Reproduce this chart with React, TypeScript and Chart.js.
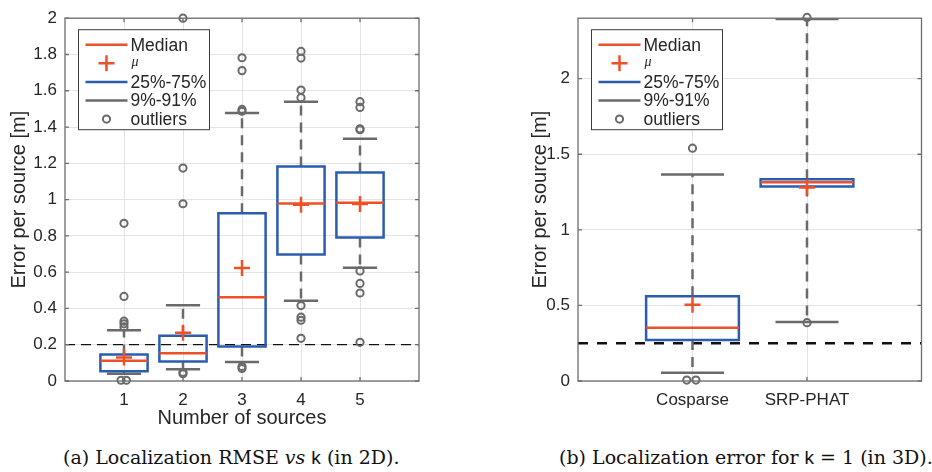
import React, { useEffect, useRef } from 'react';
import { Chart, registerables } from 'chart.js';

Chart.register(...registerables);

// ---------- (a) Localization RMSE vs k (2D) ----------
const positions2D = [1, 2, 3, 4, 5];
const tickLabels2D = ['1', '2', '3', '4', '5'];
const yTicks2D = [0, 0.2, 0.4, 0.6, 0.8, 1, 1.2, 1.4, 1.6, 1.8, 2];
const q1_2D = [0.054, 0.108, 0.19, 0.697, 0.791];
const q3_2D = [0.146, 0.249, 0.925, 1.183, 1.149];
const median2D = [0.112, 0.153, 0.461, 0.979, 0.982];
const mean2D = [0.13, 0.266, 0.623, 0.972, 0.976];
const whiskerLow2D = [0.04, 0.065, 0.105, 0.443, 0.625];
const whiskerHigh2D = [0.28, 0.417, 1.478, 1.54, 1.336];
const outlierX2D = [1, 1, 1, 1, 1, 0.95, 1.04, 2, 2, 2, 2, 2, 3, 3, 3, 3, 3, 3, 4, 4, 4, 4, 4, 4, 4, 4, 5, 5, 5, 5, 5, 5, 5, 5];
const outlierY2D = [0.869, 0.466, 0.33, 0.315, 0.298, 0.004, 0.004, 2.0, 1.174, 0.977, 0.048, 0.04, 1.782, 1.711, 1.497, 1.487, 0.08, 0.069, 1.817, 1.78, 1.604, 1.562, 0.416, 0.352, 0.335, 0.235, 1.54, 1.508, 1.39, 1.385, 0.607, 0.538, 0.485, 0.213];
const threshold2D = 0.2;

// ---------- (b) Localization error for k = 1 (3D) ----------
const positions3D = [1, 2];
const tickLabels3D = ['Cosparse', 'SRP-PHAT'];
const yTicks3D = [0, 0.5, 1, 1.5, 2];
const q1_3D = [0.271, 1.286];
const q3_3D = [0.56, 1.334];
const median3D = [0.353, 1.314];
const mean3D = [0.505, 1.28];
const whiskerLow3D = [0.054, 0.39];
const whiskerHigh3D = [1.366, 2.395];
const outlierX3D = [1, 0.95, 1.03, 2, 2];
const outlierY3D = [1.54, 0.006, 0.006, 2.405, 0.386];
const threshold3D = 0.25;

const legendLabels = ['Median', 'μ', '25%-75%', '9%-91%', 'outliers'];

const RED = '#EE5028';
const BLUE = '#2B5DAE';
const GRAY = '#6A6A6A';
const TEXT = '#262626';
const GRID = '#E4E4E4';
const FRAME = '#6E6E6E';
const SANS = '"Liberation Sans", Arial, sans-serif';

type BoxCfg = {
  pos: number[]; q1: number[]; q3: number[]; med: number[]; mean: number[];
  lo: number[]; hi: number[]; outX: number[]; outY: number[]; thr: number;
  xMin: number; xMax: number; boxHalf: number; capHalf: number;
  thrWidth: number; thrDash: number[];
};

function buildDatasets(c: BoxCfg): any[] {
  const gap = (p: number) => ({ x: p, y: null });
  const whiskers: any[] = [];
  const caps: any[] = [];
  const boxes: any[] = [];
  const medians: any[] = [];
  c.pos.forEach((p, i) => {
    whiskers.push({ x: p, y: c.q3[i] }, { x: p, y: c.hi[i] }, gap(p), { x: p, y: c.q1[i] }, { x: p, y: c.lo[i] }, gap(p));
    caps.push({ x: p - c.capHalf, y: c.hi[i] }, { x: p + c.capHalf, y: c.hi[i] }, gap(p),
      { x: p - c.capHalf, y: c.lo[i] }, { x: p + c.capHalf, y: c.lo[i] }, gap(p));
    boxes.push({ x: p - c.boxHalf, y: c.q1[i] }, { x: p + c.boxHalf, y: c.q1[i] }, { x: p + c.boxHalf, y: c.q3[i] },
      { x: p - c.boxHalf, y: c.q3[i] }, { x: p - c.boxHalf, y: c.q1[i] }, gap(p));
    medians.push({ x: p - c.boxHalf, y: c.med[i] }, { x: p + c.boxHalf, y: c.med[i] }, gap(p));
  });
  const means = c.pos.map((p, i) => ({ x: p, y: c.mean[i] }));
  const outliers = c.outX.map((x, i) => ({ x, y: c.outY[i] }));
  const thrLine = [{ x: c.xMin, y: c.thr }, { x: c.xMax, y: c.thr }];
  const common = { pointRadius: 0, spanGaps: false, fill: false, tension: 0 };
  return [
    { type: 'line', label: 'outliers', data: outliers, showLine: false, pointStyle: 'circle', pointRadius: 3.6,
      pointBorderWidth: 2, borderColor: GRAY, backgroundColor: 'rgba(0,0,0,0)', order: 0, clip: false },
    { type: 'line', label: 'mean', data: means, showLine: false, pointStyle: 'cross', pointRadius: 8,
      pointBorderWidth: 2.5, borderColor: RED, backgroundColor: RED, order: 1 },
    { type: 'line', label: 'median', data: medians, borderColor: RED, borderWidth: 2.5, order: 2, ...common },
    { type: 'line', label: 'box', data: boxes, borderColor: BLUE, borderWidth: 2.5, borderJoinStyle: 'miter',
      borderCapStyle: 'square', order: 3, ...common },
    { type: 'line', label: 'caps', data: caps, borderColor: GRAY, borderWidth: 2.5, order: 4, ...common },
    { type: 'line', label: 'whiskers', data: whiskers, borderColor: GRAY, borderWidth: 2.5, borderDash: [10, 7],
      order: 5, ...common },
    { type: 'line', label: 'threshold', data: thrLine, borderColor: '#111111', borderWidth: c.thrWidth,
      borderDash: c.thrDash, order: 6, ...common },
  ];
}

const framePlugin = {
  id: 'frameLegend',
  afterDatasetsDraw(chart: any) {
    const ctx = chart.ctx as CanvasRenderingContext2D;
    const a = chart.chartArea;
    const xs = chart.scales.x;
    const ys = chart.scales.y;
    ctx.save();
    // box frame
    ctx.strokeStyle = FRAME;
    ctx.lineWidth = 1.3;
    ctx.setLineDash([]);
    ctx.strokeRect(a.left, a.top, a.right - a.left, a.bottom - a.top);
    // inward ticks
    const tl = 4;
    ctx.beginPath();
    ys.ticks.forEach((t: any) => {
      const y = ys.getPixelForValue(t.value);
      ctx.moveTo(a.left, y); ctx.lineTo(a.left + tl, y);
      ctx.moveTo(a.right, y); ctx.lineTo(a.right - tl, y);
    });
    xs.ticks.forEach((t: any) => {
      const x = xs.getPixelForValue(t.value);
      ctx.moveTo(x, a.bottom); ctx.lineTo(x, a.bottom - tl);
      ctx.moveTo(x, a.top); ctx.lineTo(x, a.top + tl);
    });
    ctx.stroke();

    // legend
    const x0 = a.left + 13.5;
    const y0 = a.top + 11.5;
    const w = 131;
    const h = 100;
    ctx.fillStyle = '#ffffff';
    ctx.fillRect(x0, y0, w, h);
    ctx.strokeStyle = '#3C3C3C';
    ctx.lineWidth = 1;
    ctx.strokeRect(x0, y0, w, h);
    const symL = x0 + 7;
    const symR = x0 + 49;
    const symC = (symL + symR) / 2;
    const textX = x0 + 52;
    legendLabels.forEach((label, i) => {
      const cy = y0 + 15 + i * 18.6;
      ctx.setLineDash([]);
      ctx.lineWidth = 2.5;
      if (i === 0 || i === 2 || i === 3) {
        ctx.strokeStyle = i === 0 ? RED : i === 2 ? BLUE : GRAY;
        ctx.beginPath(); ctx.moveTo(symL, cy); ctx.lineTo(symR, cy); ctx.stroke();
      } else if (i === 1) {
        ctx.strokeStyle = RED;
        ctx.beginPath();
        ctx.moveTo(symC - 8, cy); ctx.lineTo(symC + 8, cy);
        ctx.moveTo(symC, cy - 8); ctx.lineTo(symC, cy + 8);
        ctx.stroke();
      } else {
        ctx.strokeStyle = GRAY;
        ctx.lineWidth = 2;
        ctx.beginPath(); ctx.arc(symC, cy, 3.6, 0, Math.PI * 2); ctx.stroke();
      }
      ctx.fillStyle = TEXT;
      ctx.textBaseline = 'middle';
      ctx.textAlign = 'left';
      if (i === 1) {
        ctx.font = 'italic 14px "Liberation Serif", serif';
        ctx.fillText(label, textX + 1, cy - 1);
      } else {
        ctx.font = `17.5px ${SANS}`;
        ctx.fillText(label, textX, cy + 1);
      }
    });
    ctx.restore();
  },
};

function makeOptions(opts: {
  xMax: number; yMax: number; positions: number[]; tickLabels: string[]; yTicks: number[];
  yAxisWidth: number; xAxisHeight: number; padRight: number; yTitlePad: number; xTitle?: string;
}): any {
  return {
    responsive: false,
    animation: false,
    devicePixelRatio: 1,
    events: [],
    layout: { padding: { left: 0, top: 12, right: opts.padRight, bottom: 0 } },
    plugins: { legend: { display: false }, tooltip: { enabled: false }, title: { display: false } },
    scales: {
      x: {
        type: 'linear',
        min: 0,
        max: opts.xMax,
        afterBuildTicks: (s: any) => { s.ticks = opts.positions.map((v) => ({ value: v })); },
        afterFit: (s: any) => { s.height = opts.xAxisHeight; },
        ticks: {
          autoSkip: false,
          maxRotation: 0,
          padding: 9,
          color: TEXT,
          font: { family: SANS, size: 17 },
          callback: (v: any, i: number) => opts.tickLabels[i],
        },
        grid: { color: GRID, lineWidth: 1, drawTicks: false },
        border: { display: false },
        title: opts.xTitle
          ? { display: true, text: opts.xTitle, color: TEXT, font: { family: SANS, size: 20 }, padding: { top: 0, bottom: 0 } }
          : { display: false },
      },
      y: {
        type: 'linear',
        min: 0,
        max: opts.yMax,
        afterBuildTicks: (s: any) => { s.ticks = opts.yTicks.map((v) => ({ value: v })); },
        afterFit: (s: any) => { s.width = opts.yAxisWidth; },
        ticks: {
          padding: 8,
          color: TEXT,
          font: { family: SANS, size: 17 },
          callback: (v: any) => String(v),
        },
        grid: { color: GRID, lineWidth: 1, drawTicks: false },
        border: { display: false },
        title: {
          display: true,
          text: 'Error per source [m]',
          color: TEXT,
          font: { family: SANS, size: 20 },
          padding: { top: opts.yTitlePad, bottom: 0 },
        },
      },
    },
  };
}

function BoxChart(props: { width: number; height: number; left: number; config: any }) {
  const ref = useRef<HTMLCanvasElement | null>(null);
  useEffect(() => {
    if (!ref.current) return;
    const chart = new Chart(ref.current, props.config);
    return () => chart.destroy();
  }, []);
  return (
    <canvas
      ref={ref}
      width={props.width}
      height={props.height}
      style={{ position: 'absolute', left: props.left, top: 0, width: props.width, height: props.height }}
    />
  );
}

export default function App() {
  const config2D = {
    type: 'line',
    data: {
      datasets: buildDatasets({
        pos: positions2D, q1: q1_2D, q3: q3_2D, med: median2D, mean: mean2D, lo: whiskerLow2D, hi: whiskerHigh2D,
        outX: outlierX2D, outY: outlierY2D, thr: threshold2D, xMin: 0, xMax: 6, boxHalf: 0.4, capHalf: 0.29,
        thrWidth: 1.2, thrDash: [10, 6],
      }),
    },
    options: makeOptions({
      xMax: 6, yMax: 2, positions: positions2D, tickLabels: tickLabels2D, yTicks: yTicks2D,
      yAxisWidth: 65, xAxisHeight: 49, padRight: 46, yTitlePad: 7, xTitle: 'Number of sources',
    }),
    plugins: [framePlugin],
  };
  const config3D = {
    type: 'line',
    data: {
      datasets: buildDatasets({
        pos: positions3D, q1: q1_3D, q3: q3_3D, med: median3D, mean: mean3D, lo: whiskerLow3D, hi: whiskerHigh3D,
        outX: outlierX3D, outY: outlierY3D, thr: threshold3D, xMin: 0, xMax: 3, boxHalf: 0.405, capHalf: 0.275,
        thrWidth: 2.6, thrDash: [10, 9],
      }),
    },
    options: makeOptions({
      xMax: 3, yMax: 2.4, positions: positions3D, tickLabels: tickLabels3D, yTicks: yTicks3D,
      yAxisWidth: 53, xAxisHeight: 49, padRight: 2, yTitlePad: 3,
    }),
    plugins: [framePlugin],
  };
  const captionStyle: React.CSSProperties = {
    position: 'absolute',
    top: 445,
    fontFamily: '"DejaVu Serif", serif',
    fontSize: 19,
    lineHeight: '24px',
    color: '#111111',
    whiteSpace: 'nowrap',
  };
  const sansK: React.CSSProperties = { fontFamily: SANS };
  return (
    <div style={{ position: 'absolute', left: 0, top: 0, width: 932, height: 472, background: '#ffffff', overflow: 'hidden' }}>
      <BoxChart width={465} height={430} left={0} config={config2D} />
      <BoxChart width={407} height={430} left={525} config={config3D} />
      <div style={{ ...captionStyle, left: 63 }}>
        (a) Localization RMSE <i>vs</i> <span style={sansK}>k</span> (in 2D).
      </div>
      <div style={{ ...captionStyle, left: 559 }}>
        (b) Localization error for <span style={sansK}>k</span> = 1 (in 3D).
      </div>
    </div>
  );
}
